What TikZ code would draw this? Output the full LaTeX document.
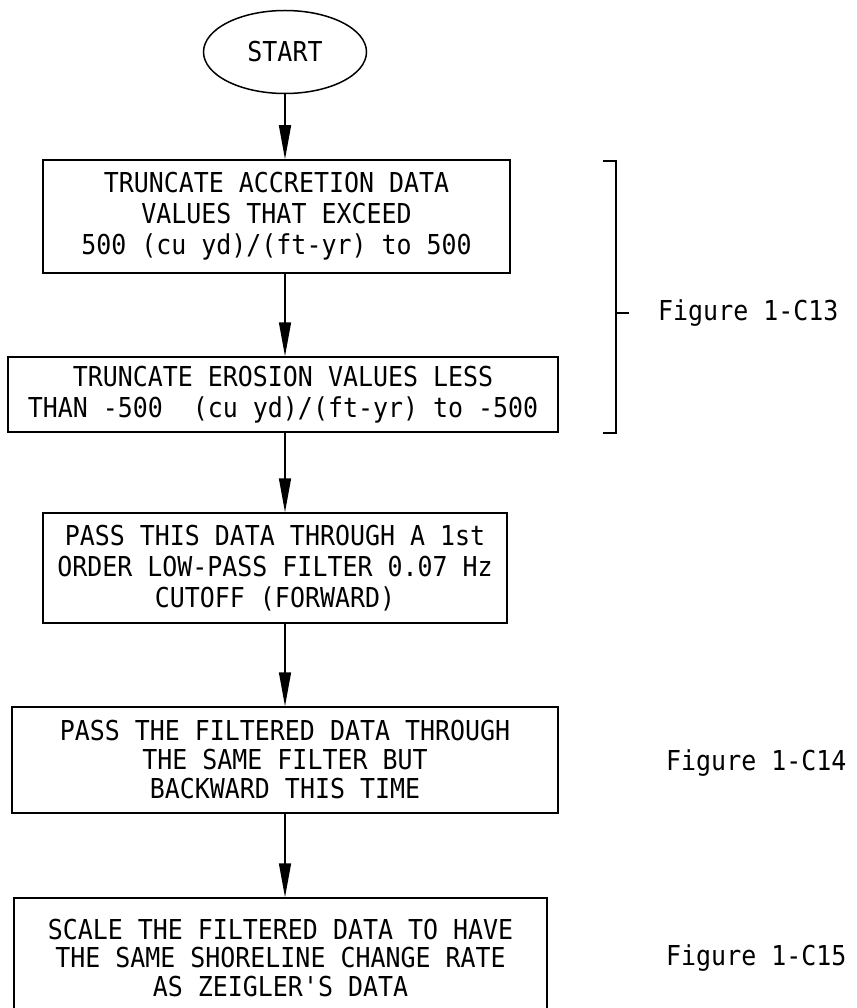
\documentclass[tikz,border=0pt]{standalone}
\usepackage{fontspec}
\usepackage{tikz}
\usetikzlibrary{shapes,arrows.meta,positioning,calc}
\newfontfamily\flowfont{DejaVu Sans Mono}[FakeStretch=0.91]

\begin{document}
\begin{tikzpicture}[x=1pt, y=-1pt,
  flowbox/.style={rectangle, draw, line width=1.5pt, inner sep=0pt, align=center,
    font=\flowfont\fontsize{27.4}{31}\selectfont},
  startoval/.style={ellipse, draw, line width=1.5pt, inner sep=0pt, minimum width=163pt, minimum height=83pt,
    font=\flowfont\fontsize{27.4}{31}\selectfont},
  figlabel/.style={anchor=west, inner sep=0pt, font=\flowfont\fontsize{27.4}{31}\selectfont},
  arr/.style={-{Triangle[length=34pt, width=12pt]}, line width=1.5pt},
  brace/.style={line width=1.5pt}
]
  \useasboundingbox (0,0) rectangle (856,1008);
  \clip (0,0) rectangle (856,1008);

  \node[startoval] (start) at (285,52) {START};
  \node[flowbox, minimum width=467pt, minimum height=113pt] (accretion) at (276.5,216.5)
    {TRUNCATE ACCRETION DATA\\VALUES THAT EXCEED\\500 (cu yd)/(ft-yr) to 500};
  \node[flowbox, minimum width=550pt, minimum height=75pt] (erosion) at (283,394.5)
    {TRUNCATE EROSION VALUES LESS\\THAN -500\ \ (cu yd)/(ft-yr) to -500};
  \node[flowbox, minimum width=464pt, minimum height=110pt] (forward) at (275,568)
    {PASS THIS DATA THROUGH A 1st\\ORDER LOW-PASS FILTER 0.07 Hz\\CUTOFF (FORWARD)};
  \node[flowbox, minimum width=546pt, minimum height=106pt, font=\flowfont\fontsize{27.4}{29}\selectfont] (backward) at (285,760)
    {PASS THE FILTERED DATA THROUGH\\THE SAME FILTER BUT\\BACKWARD THIS TIME};
  \node[flowbox, minimum width=533pt, minimum height=120pt, font=\flowfont\fontsize{27.4}{28.5}\selectfont] (scale) at (280.5,958)
    {SCALE THE FILTERED DATA TO HAVE\\THE SAME SHORELINE CHANGE RATE\\AS ZEIGLER'S DATA};

  \draw[arr] (start) -- (start |- accretion.north);
  \draw[arr] (accretion.south -| start) -- (erosion.north -| start);
  \draw[arr] (erosion.south -| start) -- (forward.north -| start);
  \draw[arr] (forward.south -| start) -- (backward.north -| start);
  \draw[arr] (backward.south -| start) -- (scale.north -| start);

  % bracket for the two truncation steps
  \coordinate (brtop) at (603,161);
  \coordinate (brbot) at (603,433);
  \coordinate (brmid) at (616,313);
  \draw[brace] (brtop) -- ++(13,0) -- (brmid) -- ($(brbot)+(13,0)$) -- (brbot);
  \draw[brace] (brmid) -- ++(13,0);

  \node[figlabel] (fig13) at (658,313) {Figure 1-C13};
  \node[figlabel] (fig14) at (666,763) {Figure 1-C14};
  \node[figlabel] (fig15) at (666,958) {Figure 1-C15};
\end{tikzpicture}
\end{document}
